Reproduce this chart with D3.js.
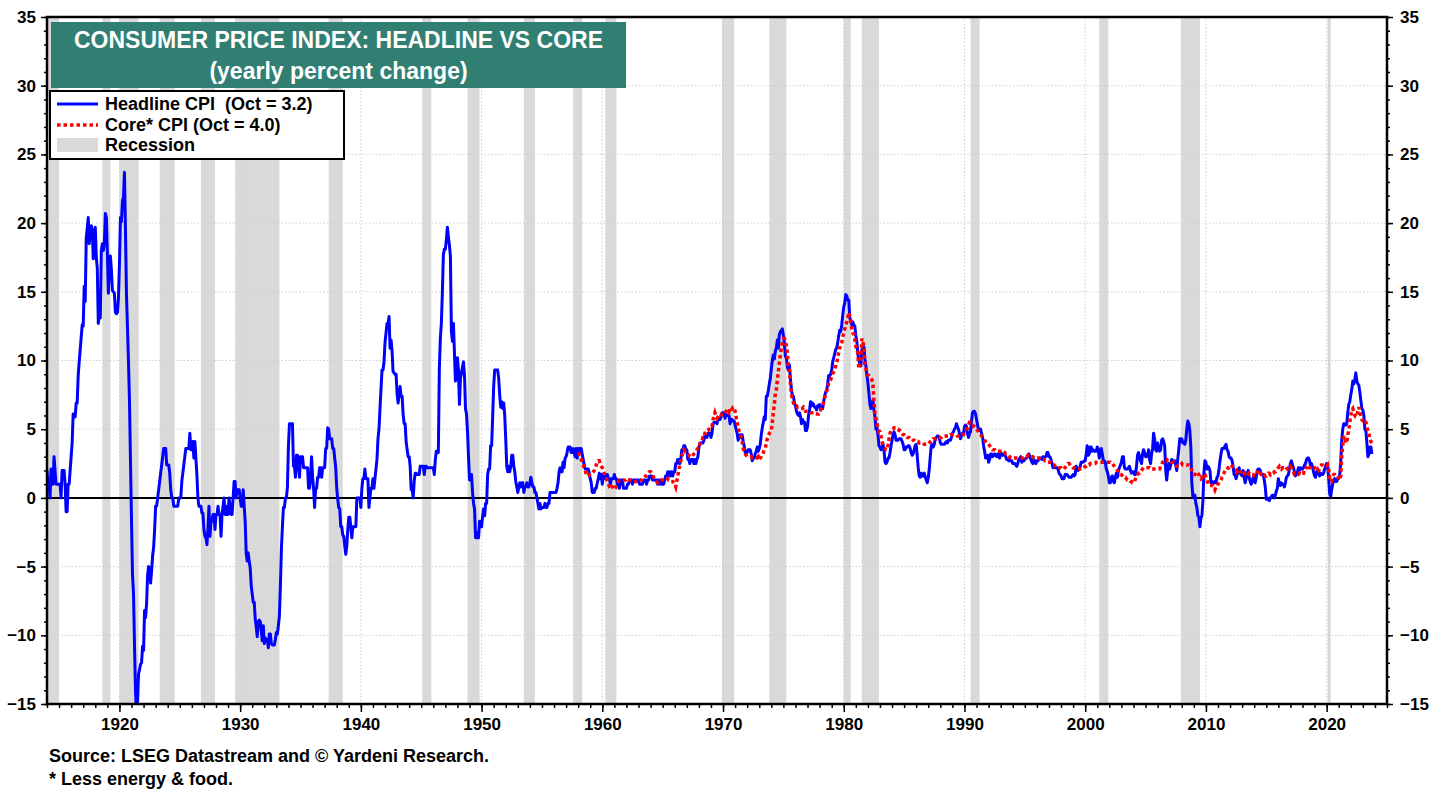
<!DOCTYPE html>
<html>
<head>
<meta charset="utf-8">
<script src="https://cdn.jsdelivr.net/npm/d3@7"></script>
<style>
  body { margin: 0; background: #fff; }
  text { font-family: Arial, "Liberation Sans", sans-serif; font-weight: bold; }
</style>
</head>
<body>
<div id="chart"></div>
<script>
// monthly yoy % change, headline CPI from Jan 1914, one row per year
const headlineStart = 1914;
const headlineCpi = [
  2.0, 1.0, 1.0, 0.0, 2.1, 1.0, 1.0, 3.0, 2.0, 1.0, 1.0, 1.0,
  1.0, 1.0, 0.0, 2.0, 2.0, 2.0, 1.0, -1.0, -1.0, 1.0, 1.0, 2.0,
  3.0, 4.0, 6.1, 6.0, 5.9, 6.9, 6.9, 8.9, 9.9, 10.8, 11.7, 12.6,
  12.5, 15.4, 14.3, 18.9, 19.6, 20.4, 18.5, 19.3, 19.8, 19.5, 17.4, 18.1,
  19.7, 17.5, 16.7, 12.7, 13.3, 13.1, 18.0, 18.5, 18.0, 18.5, 20.7, 20.4,
  17.9, 14.9, 17.1, 17.6, 16.6, 15.1, 15.0, 14.9, 13.5, 13.4, 13.5, 14.5,
  17.0, 20.4, 20.1, 21.6, 21.9, 23.7, 19.5, 14.8, 12.4, 9.9, 7.0, 2.6,
  -1.6, -5.6, -7.0, -10.8, -14.1, -15.8, -14.9, -12.8, -12.5, -12.1, -12.0, -10.8,
  -11.1, -8.2, -8.7, -7.7, -5.6, -5.0, -5.1, -6.2, -5.3, -4.2, -3.6, -2.3,
  -0.6, -0.6, 0.0, 0.6, 1.2, 1.8, 2.4, 3.0, 3.6, 3.6, 3.6, 2.4,
  2.4, 2.4, 1.8, 0.6, 0.0, 0.0, -0.6, -0.6, -0.6, -0.6, -0.6, 0.0,
  0.0, 0.0, 1.2, 1.8, 2.4, 3.0, 3.6, 3.6, 3.6, 3.6, 4.7, 3.5,
  3.5, 4.1, 2.9, 4.1, 2.9, 1.7, 0.0, -0.6, -0.6, -0.6, -1.1, -1.1,
  -2.3, -2.8, -2.9, -3.4, -2.2, -0.6, -2.8, -1.7, -1.7, -1.2, -1.2, -2.3,
  -1.2, -1.2, -0.6, -1.2, -1.2, -2.8, -1.2, -0.6, 0.0, -1.2, -0.6, -1.2,
  -1.2, 0.0, -0.6, -1.2, -1.2, 0.0, 1.2, 1.2, 0.0, 0.6, 0.6, 0.6,
  0.0, -0.6, -0.6, 0.6, -0.6, -1.7, -4.0, -4.6, -4.0, -4.6, -5.1, -6.4,
  -7.0, -7.6, -7.6, -8.8, -9.4, -10.1, -9.0, -8.9, -9.0, -9.7, -10.4, -9.3,
  -10.6, -10.2, -10.3, -10.3, -10.9, -9.9, -9.9, -10.6, -10.7, -10.7, -10.7, -10.3,
  -9.8, -9.9, -9.3, -8.6, -6.4, -3.7, -2.1, -0.7, -0.7, 0.0, 0.0, 0.8,
  3.8, 5.4, 5.4, 5.4, 5.4, 2.3, 2.3, 1.5, 3.1, 3.1, 2.3, 1.5,
  3.0, 3.0, 3.0, 2.2, 2.2, 2.2, 2.2, 2.2, 0.7, 0.7, 1.5, 3.0,
  1.5, 0.7, -0.7, 0.7, 0.7, 1.5, 1.5, 2.2, 2.2, 1.5, 2.2, 2.2,
  2.2, 3.6, 3.6, 5.1, 5.0, 4.3, 4.3, 4.3, 3.6, 3.6, 2.9, 2.2,
  0.7, -0.1, -0.7, -0.8, -2.1, -2.1, -2.7, -2.8, -3.5, -4.1, -3.5, -2.3,
  -1.4, -1.4, -2.1, -2.9, -2.1, -2.1, -2.1, -2.1, 0.0, 0.0, 0.0, 0.0,
  -0.7, 0.7, 1.4, 1.4, 2.1, 1.4, 1.4, 1.4, -0.7, 0.0, 0.7, 0.7,
  1.4, 0.7, 1.4, 2.1, 2.8, 4.3, 5.0, 6.5, 7.9, 9.3, 9.3, 9.9,
  11.3, 12.0, 12.7, 12.6, 13.2, 10.9, 11.5, 10.7, 9.2, 9.1, 9.0, 9.0,
  7.6, 6.9, 7.5, 8.1, 7.4, 7.4, 6.1, 5.4, 5.4, 4.1, 3.5, 3.0,
  3.0, 2.3, 0.6, 0.6, 0.0, 1.2, 1.8, 1.8, 1.7, 1.7, 1.7, 2.3,
  2.3, 2.3, 2.3, 1.7, 2.3, 2.3, 2.2, 2.2, 2.2, 2.2, 2.2, 2.2,
  2.2, 1.7, 2.8, 3.4, 3.4, 3.3, 9.4, 11.6, 12.7, 14.9, 17.7, 18.1,
  18.1, 18.8, 19.7, 19.0, 18.4, 17.6, 12.1, 11.4, 12.7, 10.6, 8.5, 8.8,
  10.2, 9.3, 6.8, 8.7, 9.1, 9.5, 9.9, 8.9, 6.5, 6.1, 4.8, 3.0,
  1.3, 1.3, 1.7, 0.4, -0.4, -0.8, -2.9, -2.9, -2.5, -2.9, -1.7, -2.1,
  -2.1, -1.3, -0.8, -1.3, -0.4, -0.4, 1.7, 2.1, 2.1, 3.8, 3.8, 5.9,
  8.1, 9.3, 9.3, 9.3, 9.3, 8.7, 7.5, 6.6, 7.0, 6.5, 6.9, 6.0,
  4.3, 2.3, 1.9, 2.3, 1.9, 2.3, 3.1, 3.1, 2.3, 1.9, 1.2, 0.8,
  0.4, 0.8, 1.1, 0.8, 1.1, 1.1, 0.4, 0.8, 0.8, 1.1, 0.8, 0.8,
  1.1, 1.5, 1.1, 0.8, 0.8, 0.4, 0.4, 0.0, -0.4, -0.8, -0.4, -0.8,
  -0.7, -0.7, -0.7, -0.4, -0.7, -0.7, -0.4, -0.4, 0.4, 0.4, 0.4, 0.4,
  0.4, 0.4, 0.4, 0.7, 1.1, 1.9, 2.2, 1.9, 1.9, 2.6, 2.2, 2.9,
  3.0, 3.3, 3.7, 3.7, 3.7, 3.3, 3.3, 3.6, 3.3, 3.0, 3.6, 2.9,
  3.6, 3.2, 3.6, 3.6, 3.2, 2.8, 2.4, 2.1, 2.1, 2.1, 2.1, 1.8,
  1.4, 1.1, 0.4, 0.4, 0.4, 0.7, 0.7, 1.1, 1.4, 1.8, 1.4, 1.7,
  1.0, 1.7, 1.4, 1.7, 1.7, 1.7, 1.4, 1.4, 1.0, 1.4, 1.4, 1.4,
  1.7, 1.4, 1.4, 1.0, 1.0, 0.7, 1.3, 1.0, 1.3, 0.7, 0.7, 0.7,
  0.7, 1.0, 1.0, 1.3, 1.3, 1.3, 1.0, 1.3, 1.3, 1.3, 1.3, 1.3,
  1.3, 1.0, 1.0, 1.0, 1.0, 1.3, 1.3, 1.3, 1.0, 1.3, 1.3, 1.6,
  1.6, 1.6, 1.3, 1.3, 1.3, 1.3, 1.3, 1.0, 1.3, 1.0, 1.3, 1.0,
  1.0, 1.0, 1.3, 1.6, 1.6, 1.9, 1.6, 1.9, 1.6, 1.9, 1.6, 1.9,
  1.9, 2.5, 2.5, 2.8, 2.8, 2.5, 2.8, 3.5, 3.5, 3.8, 3.8, 3.5,
  3.5, 2.8, 2.8, 2.5, 2.8, 2.8, 2.8, 2.5, 2.8, 2.5, 2.8, 3.0,
  3.7, 4.0, 4.0, 4.0, 4.0, 4.2, 4.5, 4.5, 4.4, 4.7, 4.7, 4.7,
  4.4, 4.7, 5.3, 5.5, 5.5, 5.5, 5.4, 5.7, 5.7, 5.7, 5.9, 6.2,
  6.2, 6.1, 5.8, 6.1, 6.0, 6.0, 6.0, 5.4, 5.7, 5.7, 5.6, 5.6,
  5.3, 5.0, 4.7, 4.2, 4.4, 4.6, 4.4, 4.6, 4.1, 3.8, 3.3, 3.3,
  3.3, 3.5, 3.5, 3.5, 3.2, 2.7, 2.9, 2.9, 3.2, 3.4, 3.7, 3.4,
  3.6, 3.9, 4.6, 5.1, 5.5, 5.9, 5.7, 7.4, 7.4, 7.8, 8.3, 8.7,
  9.4, 10.0, 10.4, 10.1, 10.7, 10.9, 11.5, 10.9, 11.9, 12.1, 12.2, 12.3,
  11.8, 11.2, 10.3, 10.2, 9.5, 9.3, 9.7, 8.6, 7.9, 7.4, 7.4, 6.9,
  6.7, 6.3, 6.1, 6.0, 6.2, 5.9, 5.4, 5.7, 5.5, 5.5, 4.9, 4.9,
  5.2, 6.0, 6.4, 7.0, 6.7, 6.9, 6.8, 6.6, 6.6, 6.4, 6.7, 6.7,
  6.8, 6.4, 6.6, 6.5, 7.0, 7.4, 7.7, 7.8, 8.3, 8.9, 8.9, 9.0,
  9.3, 9.9, 10.2, 10.5, 10.8, 10.9, 11.3, 11.8, 12.2, 12.1, 12.6, 13.3,
  13.9, 14.2, 14.8, 14.7, 14.4, 14.4, 13.1, 12.9, 12.6, 12.8, 12.6, 12.5,
  11.8, 11.4, 10.5, 10.0, 9.8, 9.6, 10.8, 10.8, 11.0, 10.1, 9.6, 8.9,
  8.4, 7.6, 6.8, 6.5, 6.7, 7.1, 6.4, 5.9, 5.0, 5.1, 4.6, 3.8,
  3.7, 3.5, 3.6, 3.9, 3.5, 2.6, 2.5, 2.6, 2.9, 2.9, 3.3, 3.8,
  4.2, 4.6, 4.8, 4.6, 4.2, 4.2, 4.2, 4.3, 4.3, 4.3, 4.1, 3.9,
  3.5, 3.5, 3.7, 3.7, 3.8, 3.8, 3.6, 3.3, 3.1, 3.2, 3.5, 3.8,
  3.9, 3.1, 2.2, 1.6, 1.5, 1.8, 1.6, 1.6, 1.8, 1.5, 1.3, 1.1,
  1.5, 2.1, 3.0, 3.8, 3.9, 3.7, 3.9, 4.3, 4.4, 4.5, 4.5, 4.4,
  4.0, 3.9, 3.9, 3.9, 3.9, 4.0, 4.1, 4.0, 4.2, 4.2, 4.2, 4.4,
  4.7, 4.8, 5.0, 5.1, 5.4, 5.2, 5.0, 4.7, 4.3, 4.5, 4.7, 4.6,
  5.2, 5.3, 5.2, 4.7, 4.4, 4.7, 4.8, 5.6, 6.2, 6.3, 6.3, 6.1,
  5.7, 5.3, 4.9, 4.9, 5.0, 4.7, 4.4, 3.8, 3.4, 2.9, 3.0, 3.1,
  2.6, 2.8, 3.2, 3.2, 3.0, 3.1, 3.2, 3.1, 3.0, 3.2, 3.0, 2.9,
  3.3, 3.2, 3.1, 3.2, 3.2, 3.0, 2.8, 2.8, 2.7, 2.8, 2.7, 2.7,
  2.5, 2.5, 2.5, 2.4, 2.3, 2.5, 2.8, 2.9, 3.0, 2.6, 2.7, 2.7,
  2.8, 2.9, 2.9, 3.1, 3.2, 3.0, 2.8, 2.6, 2.5, 2.8, 2.6, 2.5,
  2.7, 2.7, 2.8, 2.9, 2.9, 2.8, 3.0, 2.9, 3.0, 3.0, 3.3, 3.3,
  3.0, 3.0, 2.8, 2.5, 2.2, 2.3, 2.2, 2.2, 2.2, 2.1, 1.8, 1.7,
  1.6, 1.4, 1.4, 1.4, 1.7, 1.7, 1.7, 1.6, 1.5, 1.5, 1.5, 1.6,
  1.7, 1.6, 1.7, 2.3, 2.1, 2.0, 2.1, 2.3, 2.6, 2.6, 2.6, 2.7,
  2.7, 3.2, 3.8, 3.1, 3.2, 3.7, 3.7, 3.4, 3.5, 3.4, 3.4, 3.4,
  3.7, 3.5, 2.9, 3.3, 3.6, 3.2, 2.7, 2.7, 2.6, 2.1, 1.9, 1.6,
  1.1, 1.1, 1.5, 1.6, 1.2, 1.1, 1.5, 1.8, 1.5, 2.0, 2.2, 2.4,
  2.6, 3.0, 3.0, 2.2, 2.1, 2.1, 2.1, 2.2, 2.3, 2.0, 1.8, 1.9,
  1.9, 1.7, 1.7, 2.3, 3.1, 3.3, 3.0, 2.7, 2.5, 3.2, 3.5, 3.3,
  3.0, 3.0, 3.1, 3.5, 2.8, 2.5, 3.2, 3.6, 4.7, 4.3, 3.5, 3.4,
  4.0, 3.6, 3.4, 3.5, 4.2, 4.3, 4.1, 3.8, 2.1, 1.3, 2.0, 2.5,
  2.1, 2.4, 2.8, 2.6, 2.7, 2.7, 2.4, 2.0, 2.8, 3.5, 4.3, 4.1,
  4.3, 4.0, 4.0, 3.9, 4.2, 5.0, 5.6, 5.4, 4.9, 3.7, 1.1, 0.1,
  0.0, 0.2, -0.4, -0.7, -1.3, -1.4, -2.1, -1.5, -1.3, -0.2, 1.8, 2.7,
  2.6, 2.1, 2.3, 2.2, 2.0, 1.1, 1.2, 1.1, 1.1, 1.2, 1.1, 1.5,
  1.6, 2.1, 2.7, 3.2, 3.6, 3.6, 3.6, 3.8, 3.9, 3.5, 3.4, 3.0,
  2.9, 2.9, 2.7, 2.3, 1.7, 1.7, 1.4, 1.7, 2.0, 2.2, 1.8, 1.7,
  1.6, 2.0, 1.5, 1.1, 1.4, 1.8, 2.0, 1.5, 1.2, 1.0, 1.2, 1.5,
  1.6, 1.1, 1.5, 2.0, 2.1, 2.1, 2.0, 1.7, 1.7, 1.7, 1.3, 0.8,
  -0.1, 0.0, -0.1, -0.2, 0.0, 0.1, 0.2, 0.2, 0.0, 0.2, 0.5, 0.7,
  1.4, 1.0, 0.9, 1.1, 1.0, 1.0, 0.8, 1.1, 1.5, 1.6, 1.7, 2.1,
  2.5, 2.7, 2.4, 2.2, 1.9, 1.6, 1.7, 1.9, 2.2, 2.0, 2.2, 2.1,
  2.1, 2.2, 2.4, 2.5, 2.8, 2.9, 2.9, 2.7, 2.3, 2.5, 2.2, 1.9,
  1.6, 1.5, 1.9, 2.0, 1.8, 1.6, 1.8, 1.7, 1.7, 1.8, 2.1, 2.3,
  2.5, 2.3, 1.5, 0.3, 0.1, 0.6, 1.0, 1.3, 1.4, 1.2, 1.2, 1.4,
  1.4, 1.7, 2.6, 4.2, 5.0, 5.4, 5.4, 5.3, 5.4, 6.2, 6.8, 7.0,
  7.5, 7.9, 8.5, 8.3, 8.6, 9.1, 8.5, 8.3, 8.2, 7.7, 7.1, 6.5,
  6.4, 6.0, 5.0, 4.9, 4.0, 3.0, 3.2, 3.7, 3.7, 3.2
];

// monthly yoy % change, core CPI (less energy & food) from Jan 1958
const coreStart = 1958;
const coreCpi = [
  3.3, 3.2, 3.0, 2.8, 2.6, 2.4, 2.2, 2.0, 1.7, 1.6, 1.6, 1.7,
  1.8, 1.8, 1.8, 1.9, 2.0, 2.2, 2.4, 2.6, 2.7, 2.7, 2.5, 2.3,
  2.2, 2.0, 1.8, 1.6, 1.4, 1.2, 1.0, 0.85, 0.9, 1.0, 0.8, 0.7,
  0.6, 0.7, 0.9, 1.1, 1.2, 1.3, 1.3, 1.3, 1.3, 1.3, 1.3, 1.3,
  1.4, 1.3, 1.3, 1.3, 1.3, 1.3, 1.3, 1.2, 1.2, 1.2, 1.2, 1.3,
  1.3, 1.3, 1.3, 1.3, 1.4, 1.4, 1.5, 1.6, 1.6, 1.7, 1.8, 1.9,
  1.9, 1.8, 1.7, 1.5, 1.4, 1.3, 1.2, 1.1, 1.1, 1.2, 1.2, 1.3,
  1.3, 1.3, 1.3, 1.3, 1.3, 1.4, 1.3, 1.3, 1.2, 1.2, 1.2, 1.1,
  1.0, 0.8, 1.2, 1.6, 2.0, 2.4, 2.7, 3.0, 3.3, 3.5, 3.4, 3.3,
  3.3, 3.2, 3.1, 3.0, 3.0, 3.0, 3.1, 3.2, 3.3, 3.4, 3.5, 3.6,
  3.6, 3.9, 4.1, 4.1, 4.4, 4.4, 4.7, 4.7, 4.9, 4.9, 5.0, 5.0,
  5.0, 5.2, 5.7, 5.9, 6.2, 6.0, 5.8, 5.9, 6.0, 5.9, 6.0, 6.1,
  6.1, 6.2, 6.2, 6.3, 6.4, 6.5, 6.3, 6.5, 6.6, 6.5, 6.6, 6.6,
  6.3, 5.9, 5.5, 5.1, 4.8, 4.6, 4.4, 4.1, 3.6, 3.4, 3.2, 3.1,
  3.0, 3.0, 3.0, 3.0, 3.0, 2.9, 2.9, 2.9, 2.9, 2.9, 2.9, 3.0,
  2.8, 2.9, 3.0, 3.2, 3.3, 3.5, 3.6, 4.0, 4.3, 4.5, 4.7, 4.8,
  4.9, 5.5, 6.2, 6.8, 7.6, 7.9, 8.6, 9.2, 9.9, 10.4, 11.0, 11.3,
  11.6, 11.6, 11.3, 11.1, 10.5, 9.6, 9.3, 8.3, 7.5, 7.2, 6.9, 6.7,
  6.7, 6.7, 6.6, 6.6, 6.6, 6.5, 6.5, 6.5, 6.6, 6.5, 6.3, 6.3,
  6.3, 6.3, 6.3, 6.2, 6.2, 6.2, 6.2, 6.2, 6.1, 6.1, 6.1, 6.1,
  6.3, 6.4, 6.6, 6.7, 7.0, 7.3, 7.5, 7.8, 7.9, 8.4, 8.5, 8.6,
  8.8, 9.0, 9.2, 9.4, 9.6, 9.8, 10.2, 10.6, 10.9, 11.1, 11.3, 11.7,
  12.0, 12.3, 12.6, 12.8, 13.1, 13.5, 13.2, 12.8, 12.3, 12.0, 11.9, 11.5,
  11.0, 10.9, 10.5, 9.4, 9.7, 10.2, 11.6, 11.3, 11.1, 9.6, 9.4, 9.0,
  8.9, 8.9, 8.8, 8.7, 8.6, 8.2, 7.1, 6.2, 5.8, 5.4, 5.1, 4.8,
  4.8, 4.5, 4.1, 3.9, 3.8, 3.6, 3.5, 3.5, 3.8, 4.3, 4.7, 4.9,
  5.0, 5.0, 5.1, 5.1, 5.1, 5.0, 5.0, 4.9, 4.9, 4.8, 4.7, 4.6,
  4.6, 4.5, 4.5, 4.4, 4.4, 4.4, 4.3, 4.3, 4.3, 4.2, 4.2, 4.1,
  4.1, 4.1, 4.1, 4.0, 4.0, 4.0, 4.0, 4.0, 3.9, 3.9, 3.9, 3.9,
  3.9, 4.0, 4.1, 4.2, 4.2, 4.3, 4.3, 4.3, 4.3, 4.4, 4.4, 4.4,
  4.4, 4.4, 4.5, 4.5, 4.5, 4.5, 4.5, 4.5, 4.5, 4.5, 4.6, 4.6,
  4.6, 4.6, 4.6, 4.6, 4.6, 4.5, 4.5, 4.5, 4.5, 4.5, 4.6, 4.6,
  4.8, 4.9, 5.0, 5.1, 5.3, 5.5, 5.5, 5.4, 5.3, 5.2, 5.2, 5.1,
  5.0, 4.9, 4.8, 4.7, 4.6, 4.5, 4.4, 4.3, 4.2, 4.1, 4.0, 4.0,
  3.9, 3.8, 3.7, 3.6, 3.5, 3.5, 3.5, 3.4, 3.4, 3.4, 3.4, 3.4,
  3.4, 3.4, 3.4, 3.3, 3.3, 3.2, 3.2, 3.1, 3.0, 3.0, 2.9, 2.9,
  2.9, 2.9, 2.9, 2.9, 2.9, 2.9, 2.9, 2.9, 2.9, 2.9, 2.9, 2.9,
  3.0, 3.0, 3.0, 3.1, 3.1, 3.1, 3.0, 3.0, 3.0, 2.9, 2.9, 2.9,
  2.9, 2.9, 2.9, 2.8, 2.8, 2.8, 2.8, 2.8, 2.7, 2.7, 2.6, 2.6,
  2.6, 2.6, 2.6, 2.5, 2.4, 2.4, 2.3, 2.2, 2.2, 2.2, 2.2, 2.2,
  2.2, 2.1, 2.1, 2.1, 2.2, 2.3, 2.4, 2.5, 2.5, 2.4, 2.3, 2.3,
  2.2, 2.2, 2.1, 2.1, 2.1, 2.1, 2.1, 2.1, 2.1, 2.1, 2.1, 2.2,
  2.3, 2.3, 2.4, 2.4, 2.4, 2.5, 2.5, 2.5, 2.5, 2.5, 2.5, 2.6,
  2.6, 2.6, 2.6, 2.6, 2.6, 2.6, 2.6, 2.6, 2.6, 2.6, 2.6, 2.6,
  2.6, 2.6, 2.5, 2.5, 2.4, 2.3, 2.2, 2.1, 2.0, 1.9, 1.8, 1.7,
  1.7, 1.6, 1.5, 1.5, 1.5, 1.4, 1.3, 1.3, 1.3, 1.2, 1.2, 1.1,
  1.1, 1.2, 1.4, 1.6, 1.7, 1.8, 1.8, 1.9, 2.0, 2.1, 2.2, 2.2,
  2.2, 2.2, 2.2, 2.2, 2.2, 2.1, 2.1, 2.1, 2.1, 2.1, 2.1, 2.1,
  2.1, 2.1, 2.1, 2.3, 2.4, 2.6, 2.7, 2.8, 2.8, 2.8, 2.7, 2.7,
  2.7, 2.7, 2.6, 2.6, 2.6, 2.5, 2.4, 2.3, 2.3, 2.3, 2.3, 2.4,
  2.5, 2.4, 2.4, 2.4, 2.4, 2.4, 2.4, 2.4, 2.3, 2.2, 2.0, 1.8,
  1.7, 1.7, 1.8, 1.9, 1.8, 1.7, 1.5, 1.4, 1.5, 1.7, 1.7, 1.7,
  1.5, 1.3, 1.1, 0.9, 0.9, 0.9, 0.9, 0.9, 0.8, 0.6, 0.8, 0.8,
  1.0, 1.1, 1.2, 1.3, 1.5, 1.6, 1.8, 2.0, 2.0, 2.1, 2.2, 2.2,
  2.3, 2.2, 2.3, 2.3, 2.3, 2.2, 2.1, 1.9, 2.0, 2.0, 1.9, 1.9,
  1.9, 2.0, 1.9, 1.7, 1.7, 1.6, 1.7, 1.8, 1.7, 1.7, 1.7, 1.7,
  1.6, 1.6, 1.7, 1.8, 2.0, 1.9, 1.9, 1.7, 1.7, 1.8, 1.7, 1.6,
  1.6, 1.7, 1.8, 1.8, 1.7, 1.8, 1.8, 1.8, 1.9, 1.9, 2.0, 2.1,
  2.2, 2.3, 2.2, 2.1, 2.2, 2.2, 2.2, 2.3, 2.2, 2.1, 2.1, 2.2,
  2.3, 2.2, 2.0, 1.9, 1.7, 1.7, 1.7, 1.7, 1.7, 1.8, 1.7, 1.8,
  1.8, 1.8, 2.1, 2.1, 2.2, 2.3, 2.4, 2.2, 2.2, 2.1, 2.2, 2.2,
  2.2, 2.1, 2.0, 2.1, 2.0, 2.1, 2.2, 2.4, 2.4, 2.3, 2.3, 2.3,
  2.3, 2.4, 2.1, 1.4, 1.2, 1.2, 1.6, 1.7, 1.7, 1.6, 1.6, 1.6,
  1.4, 1.3, 1.6, 3.0, 3.8, 4.5, 4.3, 4.0, 4.0, 4.6, 4.9, 5.5,
  6.0, 6.4, 6.5, 6.2, 6.0, 5.9, 5.9, 6.3, 6.6, 6.3, 6.0, 5.7,
  5.6, 5.5, 5.6, 5.5, 5.3, 4.8, 4.7, 4.3, 4.1, 4.0
];

// NBER recessions, peak month to trough month
const recessionStarts = ['1913-01', '1918-08', '1920-01', '1923-05', '1926-10', '1929-08', '1937-05',
  '1945-02', '1948-11', '1953-07', '1957-08', '1960-04', '1969-12', '1973-11', '1980-01',
  '1981-07', '1990-07', '2001-03', '2007-12', '2020-02'];
const recessionEnds = ['1914-12', '1919-03', '1921-07', '1924-07', '1927-11', '1933-03', '1938-06',
  '1945-10', '1949-10', '1954-05', '1958-04', '1961-02', '1970-11', '1975-03', '1980-07',
  '1982-11', '1991-03', '2001-11', '2009-06', '2020-04'];

const yTicks = [-15, -10, -5, 0, 5, 10, 15, 20, 25, 30, 35];
const xTicks = [1920, 1930, 1940, 1950, 1960, 1970, 1980, 1990, 2000, 2010, 2020];

const titleLines = ['CONSUMER PRICE INDEX: HEADLINE VS CORE', '(yearly percent change)'];
const legendLabels = ['Headline CPI  (Oct = 3.2)', 'Core* CPI (Oct = 4.0)', 'Recession'];
const notes = ['Source: LSEG Datastream and \u00a9 Yardeni Research.', '* Less energy & food.'];

const W = 1442, H = 790;
const plot = { left: 47, right: 1387, top: 17, bottom: 704 };
const fontFamily = 'Arial, "Liberation Sans", sans-serif';

const x = d3.scaleLinear().domain([1914, 2025]).range([plot.left, plot.right]);
const y = d3.scaleLinear().domain([-15, 35]).range([plot.bottom, plot.top]);

const toYear = s => +s.slice(0, 4) + (+s.slice(5, 7) - 1) / 12;

const headline = headlineCpi.map((v, i) => ({ date: headlineStart + i / 12, value: v }));
const core = coreCpi.map((v, i) => ({ date: coreStart + i / 12, value: v }));

const svg = d3.select('#chart').append('svg')
  .attr('width', W).attr('height', H)
  .style('display', 'block');

svg.append('rect').attr('width', W).attr('height', H).attr('fill', '#fff');

svg.append('clipPath').attr('id', 'plot-clip')
  .append('rect')
  .attr('x', plot.left).attr('y', plot.top)
  .attr('width', plot.right - plot.left).attr('height', plot.bottom - plot.top);

const inner = svg.append('g').attr('clip-path', 'url(#plot-clip)');

// recession bands
inner.append('g').selectAll('rect')
  .data(recessionStarts.map((s, i) => [Math.max(1914, toYear(s)), toYear(recessionEnds[i]) + 1 / 12]))
  .enter().append('rect')
  .attr('x', d => x(d[0]))
  .attr('width', d => x(d[1]) - x(d[0]))
  .attr('y', plot.top)
  .attr('height', plot.bottom - plot.top)
  .attr('fill', '#d9d9d9');

// grid
inner.append('g').selectAll('line')
  .data(yTicks.filter(d => d !== 0 && d !== 35 && d !== -15))
  .enter().append('line')
  .attr('x1', plot.left).attr('x2', plot.right)
  .attr('y1', d => y(d)).attr('y2', d => y(d))
  .attr('stroke', '#cfcfcf').attr('stroke-width', 1).attr('stroke-dasharray', '1.5,2');

inner.append('g').selectAll('line')
  .data(xTicks)
  .enter().append('line')
  .attr('x1', d => x(d)).attr('x2', d => x(d))
  .attr('y1', plot.top).attr('y2', plot.bottom)
  .attr('stroke', '#cfcfcf').attr('stroke-width', 1).attr('stroke-dasharray', '1.5,2');

// zero line
inner.append('line')
  .attr('x1', plot.left).attr('x2', plot.right)
  .attr('y1', y(0)).attr('y2', y(0))
  .attr('stroke', '#000').attr('stroke-width', 2);

const line = d3.line().x(d => x(d.date)).y(d => y(d.value));

inner.append('path')
  .datum(headline)
  .attr('d', line)
  .attr('fill', 'none')
  .attr('stroke', '#0000ff')
  .attr('stroke-width', 3)
  .attr('stroke-linejoin', 'round');

inner.append('path')
  .datum(core)
  .attr('d', line)
  .attr('fill', 'none')
  .attr('stroke', '#ff0000')
  .attr('stroke-width', 3.5)
  .attr('stroke-dasharray', '3.5,3');

// axes
function styleAxis(g) {
  g.select('.domain').remove();
  g.selectAll('.tick line').attr('stroke', '#000').attr('stroke-width', 1.5);
  g.selectAll('text')
    .attr('fill', '#000')
    .style('font-family', fontFamily)
    .style('font-weight', 'bold')
    .style('font-size', '17px');
}

const minorY = d3.range(-15, 36, 1);
const minorX = d3.range(1914, 2026, 1);

svg.append('g').attr('transform', `translate(${plot.left},0)`)
  .call(d3.axisLeft(y).tickValues(minorY).tickSize(3).tickFormat(''))
  .call(styleAxis);
svg.append('g').attr('transform', `translate(${plot.left},0)`)
  .call(d3.axisLeft(y).tickValues(yTicks).tickSize(6).tickPadding(5))
  .call(styleAxis);

svg.append('g').attr('transform', `translate(${plot.right},0)`)
  .call(d3.axisRight(y).tickValues(minorY).tickSize(3).tickFormat(''))
  .call(styleAxis);
svg.append('g').attr('transform', `translate(${plot.right},0)`)
  .call(d3.axisRight(y).tickValues(yTicks).tickSize(6).tickPadding(7))
  .call(styleAxis);

svg.append('g').attr('transform', `translate(0,${plot.bottom})`)
  .call(d3.axisBottom(x).tickValues(minorX).tickSize(4).tickFormat(''))
  .call(styleAxis);
svg.append('g').attr('transform', `translate(0,${plot.bottom})`)
  .call(d3.axisBottom(x).tickValues(xTicks).tickSize(8).tickPadding(6).tickFormat(d3.format('d')))
  .call(styleAxis);

// frame
svg.append('rect')
  .attr('x', plot.left).attr('y', plot.top)
  .attr('width', plot.right - plot.left).attr('height', plot.bottom - plot.top)
  .attr('fill', 'none').attr('stroke', '#000').attr('stroke-width', 2.5);

// title box
svg.append('rect')
  .attr('x', 51).attr('y', 22).attr('width', 575).attr('height', 66)
  .attr('fill', '#307f72');
svg.append('g').selectAll('text')
  .data(titleLines)
  .enter().append('text')
  .attr('x', 338.5)
  .attr('y', (d, i) => 48 + i * 31)
  .attr('text-anchor', 'middle')
  .attr('fill', '#fff')
  .style('font-size', '23px')
  .text(d => d);

// legend
const legend = svg.append('g');
legend.append('rect')
  .attr('x', 50).attr('y', 91).attr('width', 294).attr('height', 68)
  .attr('fill', '#fff').attr('stroke', '#000').attr('stroke-width', 2);
legend.append('line')
  .attr('x1', 57).attr('x2', 98).attr('y1', 104).attr('y2', 104)
  .attr('stroke', '#0000ff').attr('stroke-width', 3);
legend.append('line')
  .attr('x1', 57).attr('x2', 98).attr('y1', 125).attr('y2', 125)
  .attr('stroke', '#ff0000').attr('stroke-width', 3.5).attr('stroke-dasharray', '3.5,3');
legend.append('rect')
  .attr('x', 57).attr('y', 138).attr('width', 41).attr('height', 14)
  .attr('fill', '#d9d9d9');
legend.selectAll('text')
  .data(legendLabels)
  .enter().append('text')
  .attr('x', 105)
  .attr('y', (d, i) => 110 + i * 20.5)
  .style('font-size', '18px')
  .style('white-space', 'pre')
  .text(d => d);

// notes
svg.append('g').selectAll('text')
  .data(notes)
  .enter().append('text')
  .attr('x', 49)
  .attr('y', (d, i) => 762 + i * 23)
  .style('font-size', '18px')
  .text(d => d);
</script>
</body>
</html>
